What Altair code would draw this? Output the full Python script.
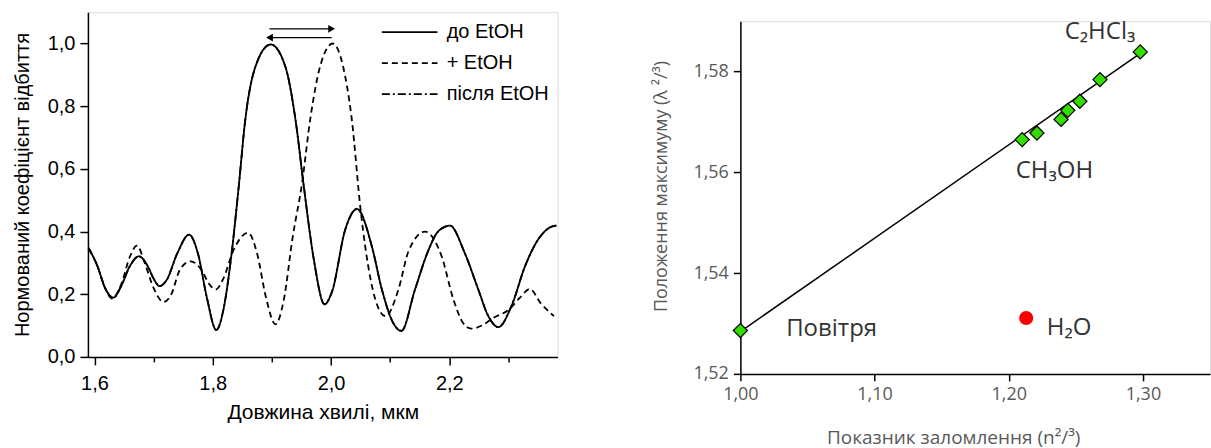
import altair as alt
import pandas as pd

# ---------------- Left panel data ----------------
series_names = ["до EtOH", "+ EtOH", "після EtOH"]

wl_before = [1.590, 1.605, 1.618, 1.632, 1.645, 1.660, 1.675, 1.690, 1.700, 1.710,
             1.722, 1.740, 1.760, 1.775, 1.790, 1.806, 1.818, 1.830, 1.844, 1.855,
             1.872, 1.898, 1.923, 1.940, 1.954, 1.971, 1.989, 2.002, 2.024, 2.044,
             2.069, 2.086, 2.105, 2.119, 2.142, 2.164, 2.181, 2.201, 2.226, 2.249,
             2.266, 2.283, 2.305, 2.328, 2.350, 2.372, 2.381]
r_before = [0.348, 0.290, 0.220, 0.189, 0.225, 0.290, 0.321, 0.290, 0.250, 0.226,
            0.245, 0.330, 0.390, 0.330, 0.190, 0.086, 0.150, 0.300, 0.544, 0.756,
            0.925, 0.997, 0.925, 0.756, 0.544, 0.310, 0.168, 0.210, 0.406, 0.472,
            0.353, 0.215, 0.109, 0.083, 0.215, 0.337, 0.400, 0.419, 0.332, 0.215,
            0.130, 0.095, 0.162, 0.289, 0.374, 0.415, 0.419]

wl_plus = [1.590, 1.605, 1.618, 1.630, 1.645, 1.660, 1.672, 1.685, 1.700, 1.717,
           1.730, 1.745, 1.763, 1.780, 1.795, 1.805, 1.818, 1.835, 1.860, 1.875,
           1.890, 1.906, 1.920, 1.935, 1.951, 1.965, 1.982, 2.003, 2.020, 2.035,
           2.050, 2.058, 2.075, 2.092, 2.114, 2.131, 2.159, 2.187, 2.207, 2.223,
           2.237, 2.255, 2.275, 2.300, 2.320, 2.336, 2.355, 2.377]
r_plus = [0.345, 0.290, 0.220, 0.186, 0.230, 0.320, 0.355, 0.300, 0.220, 0.175,
          0.200, 0.280, 0.305, 0.280, 0.230, 0.215, 0.250, 0.340, 0.396, 0.330,
          0.190, 0.104, 0.180, 0.380, 0.554, 0.760, 0.930, 1.000, 0.930, 0.760,
          0.470, 0.350, 0.183, 0.130, 0.215, 0.337, 0.400, 0.321, 0.183, 0.109,
          0.090, 0.100, 0.125, 0.150, 0.190, 0.217, 0.170, 0.130]

# "після EtOH" coincides with "до EtOH" in the picture
wl_after = list(wl_before)
r_after = list(r_before)

arrow_y = [1.047, 1.019]
arrow_start = [1.896, 2.001]
arrow_end = [2.001, 1.896]
arrow_head = ["triangle-right", "triangle-left"]
arrow_shift = [-4, 4]

x_ticks_left = [1.6, 1.7, 1.8, 1.9, 2.0, 2.1, 2.2, 2.3]
y_ticks_left = [0.0, 0.1, 0.2, 0.3, 0.4, 0.5, 0.6, 0.7, 0.8, 0.9, 1.0]

# ---------------- Right panel data ----------------
n_pts = [1.000, 1.210, 1.221, 1.239, 1.244, 1.253, 1.268, 1.298]
lam_pts = [1.5286, 1.5665, 1.5678, 1.5705, 1.5723, 1.5741, 1.5784, 1.5839]
n_h2o = [1.213]
lam_h2o = [1.5311]
fit_n = [1.000, 1.298]
fit_lam = [1.5284, 1.5836]
label_text = ["C\u2082HCl\u2083", "CH\u2083OH", "Повітря", "H\u2082O"]
label_n = [1.268, 1.234, 1.068, 1.245]
label_lam = [1.5878, 1.5602, 1.5289, 1.5292]
x_ticks_right = [1.0, 1.1, 1.2, 1.3]
y_ticks_right = [1.52, 1.54, 1.56, 1.58]

# ---------------- Build tables ----------------
rows = []
for name, xs, ys in [("після EtOH", wl_after, r_after),
                     ("+ EtOH", wl_plus, r_plus),
                     ("до EtOH", wl_before, r_before)]:
    for a, b in zip(xs, ys):
        rows.append({"wl": a, "r": b, "series": name})
df_left = pd.DataFrame(rows)

df_arrow = pd.DataFrame({"y": arrow_y, "x1": arrow_start, "x2": arrow_end,
                         "head": arrow_head, "shift": arrow_shift})

df_pts = pd.DataFrame({"n": n_pts, "lam": lam_pts})
df_h2o = pd.DataFrame({"n": n_h2o, "lam": lam_h2o})
df_fit = pd.DataFrame({"n": fit_n, "lam": fit_lam})
df_lab = pd.DataFrame({"n": label_n, "lam": label_lam, "t": label_text})

LF = "Liberation Sans"
RF = "Open Sans"
major_test = "abs(datum.value*5 - round(datum.value*5)) < 0.001"

x_left = alt.X("wl:Q", scale=alt.Scale(domain=[1.589, 2.383], nice=False, zero=False),
               axis=alt.Axis(values=x_ticks_left, title="Довжина хвилі, мкм",
                             labelExpr=f"{major_test} ? replace(format(datum.value,'.1f'),'.',',') : ''",
                             tickSize={"condition": {"test": major_test, "value": 8}, "value": 5},
                             labelPadding=9, titlePadding=8, titleFontSize=21,
                             titleFontWeight="normal", labelFontSize=20, labelFont=LF, titleFont=LF,
                             domainColor="black", tickColor="black", labelColor="black",
                             titleColor="black", domainWidth=1.5, tickWidth=1.5, grid=False,
                             labelFlush=False))
y_left = alt.Y("r:Q", scale=alt.Scale(domain=[0, 1.1], nice=False),
               axis=alt.Axis(values=y_ticks_left, title="Нормований коефіцієнт відбиття",
                             labelExpr=f"{major_test} ? replace(format(datum.value,'.1f'),'.',',') : ''",
                             tickSize={"condition": {"test": major_test, "value": 8}, "value": 5},
                             labelPadding=5, titlePadding=15, titleFontSize=20,
                             titleFontWeight="normal", labelFontSize=20, labelFont=LF, titleFont=LF,
                             domainColor="black", tickColor="black", labelColor="black",
                             titleColor="black", domainWidth=1.5, tickWidth=1.5, grid=False))

lines = alt.Chart(df_left).mark_line(color="black", strokeWidth=1.8, interpolate="monotone").encode(
    x=x_left, y=y_left,
    strokeDash=alt.StrokeDash("series:N",
                              scale=alt.Scale(domain=series_names, range=[[1, 0], [6, 4], [8, 3, 2, 3]]),
                              legend=alt.Legend(title=None, orient="none", legendX=293, legendY=5,
                                                symbolType="stroke", symbolSize=3100,
                                                symbolStrokeWidth=1.8, symbolStrokeColor="black",
                                                clipHeight=30,
                                                labelFont=LF, labelFontSize=20, labelColor="black",
                                                labelOffset=8, rowPadding=1)),
)

arrow_lines = alt.Chart(df_arrow).mark_rule(color="black", strokeWidth=1.3).encode(
    x="x1:Q", x2="x2:Q", y="y:Q")
arrow_heads = alt.Chart(df_arrow).mark_point(filled=True, color="black", size=60, opacity=1).encode(
    x="x2:Q", y="y:Q",
    shape=alt.Shape("head:N", scale=None),
    xOffset=alt.XOffset("shift:Q", scale=None))

left = alt.layer(lines, arrow_lines, arrow_heads).properties(width=470, height=345)

# ---------------- Right panel ----------------
x_right = alt.X("n:Q", scale=alt.Scale(domain=[1.0, 1.35], nice=False, zero=False),
                axis=alt.Axis(values=x_ticks_right, title="Показник заломлення (n²/³)",
                              labelExpr="replace(format(datum.value,'.2f'),'.',',')",
                              tickSize=7, labelPadding=5, titlePadding=25, titleX=213,
                              labelFont=RF, titleFont=RF, labelFontSize=18, titleFontSize=19,
                              titleFontWeight="normal", labelColor="#595959", titleColor="#595959",
                              domainColor="black", tickColor="black", domainWidth=1.5,
                              tickWidth=1.5, grid=False, labelFlush=False))
y_right = alt.Y("lam:Q", scale=alt.Scale(domain=[1.52, 1.59], nice=False, zero=False),
                axis=alt.Axis(values=y_ticks_right, title="Положення максимуму (λ ²/³)",
                              labelExpr="replace(format(datum.value,'.2f'),'.',',')",
                              tickSize=7, labelPadding=5, titlePadding=22, titleY=165,
                              labelFont=RF, titleFont=RF, labelFontSize=18, titleFontSize=18,
                              titleFontWeight="normal", labelColor="#595959", titleColor="#595959",
                              domainColor="black", tickColor="black", domainWidth=1.5,
                              tickWidth=1.5, grid=False, labelFlush=False))

fit_line = alt.Chart(df_fit).mark_line(color="black", strokeWidth=1.5).encode(x=x_right, y=y_right)
diamonds = alt.Chart(df_pts).mark_point(shape="diamond", filled=True, fill="#33dd00", stroke="black",
                                        strokeWidth=1.2, size=200, opacity=1).encode(x="n:Q", y="lam:Q")
h2o = alt.Chart(df_h2o).mark_point(shape="circle", filled=True, color="#ff0000", size=200,
                                   opacity=1).encode(x="n:Q", y="lam:Q")
labels = alt.Chart(df_lab).mark_text(font=RF, fontSize=24, color="#333333").encode(
    x="n:Q", y="lam:Q", text="t:N")

right = alt.layer(fit_line, diamonds, h2o, labels).properties(width=470, height=353)

spacer = alt.Chart(pd.DataFrame({"v": [0]})).mark_point(opacity=0).properties(width=470, height=1)
right_col = alt.vconcat(spacer, right, spacing=3)

chart = alt.hconcat(left, right_col, spacing=91).properties(
    padding={"left": 11, "top": 9, "right": 0, "bottom": 0}
).configure_view(stroke=None).configure(background="white")

chart.save("out.html", embed_options={"renderer": "svg", "actions": False})
